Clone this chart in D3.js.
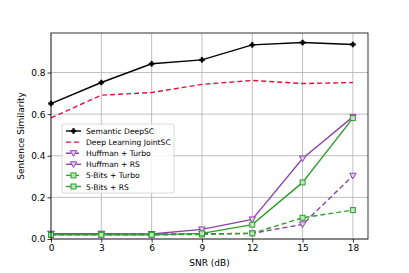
<!DOCTYPE html>
<html>
<head>
<meta charset="utf-8">
<script src="https://cdn.jsdelivr.net/npm/d3@7"></script>
<style>
  body { margin: 0; background: #fff; }
  text { font-family: "DejaVu Sans", sans-serif; }
</style>
</head>
<body>
<div id="chart"></div>
<script>
// data
const snr = [0, 3, 6, 9, 12, 15, 18];
const deepSC = [0.651, 0.752, 0.842, 0.861, 0.933, 0.944, 0.935];
const jointSC = [0.582, 0.691, 0.704, 0.743, 0.762, 0.747, 0.752];
const huffTurbo = [0.025, 0.025, 0.024, 0.025, 0.027, 0.070, 0.304];
const huffRS = [0.025, 0.025, 0.024, 0.046, 0.094, 0.387, 0.587];
const bitsTurbo = [0.020, 0.020, 0.020, 0.022, 0.027, 0.102, 0.139];
const bitsRS = [0.020, 0.020, 0.020, 0.027, 0.069, 0.272, 0.581];
const xTicks = [0, 3, 6, 9, 12, 15, 18];
const yTicks = [0.0, 0.2, 0.4, 0.6, 0.8];

const series = [
    {name: "Semantic DeepSC", values: deepSC, color: "#000000", dash: null, marker: "plus"},
    {name: "Deep Learning JointSC", values: jointSC, color: "#dc143c", dash: "5,3", marker: null},
    {name: "Huffman + Turbo", values: huffTurbo, color: "#8e44ad", dash: "5,3", marker: "tri"},
    {name: "Huffman + RS", values: huffRS, color: "#8e44ad", dash: null, marker: "tri"},
    {name: "5-Bits + Turbo", values: bitsTurbo, color: "#2ca02c", dash: "5,3", marker: "square"},
    {name: "5-Bits + RS", values: bitsRS, color: "#2ca02c", dash: null, marker: "square"}
];

const width = 409, height = 273;
const margin = {left: 51, right: 41, top: 33, bottom: 34};
const chartWidth = width - margin.left - margin.right;
const chartHeight = height - margin.top - margin.bottom;

const svg = d3.select("#chart").append("svg")
    .attr("width", width)
    .attr("height", height);

const xScale = d3.scaleLinear().domain([0, 18.9]).range([0, chartWidth]);
const yScale = d3.scaleLinear().domain([0, 0.99]).range([chartHeight, 0]);

const g = svg.append("g")
    .attr("transform", "translate(" + margin.left + "," + margin.top + ")");

// grid
g.append("g").selectAll("line").data(xTicks).enter().append("line")
    .attr("x1", d => xScale(d)).attr("x2", d => xScale(d))
    .attr("y1", 0).attr("y2", chartHeight)
    .attr("stroke", "#b0b0b0").attr("stroke-width", 0.8);
g.append("g").selectAll("line").data(yTicks).enter().append("line")
    .attr("y1", d => yScale(d)).attr("y2", d => yScale(d))
    .attr("x1", 0).attr("x2", chartWidth)
    .attr("stroke", "#b0b0b0").attr("stroke-width", 0.8);

// axes
const xAxis = d3.axisBottom(xScale).tickValues(xTicks).tickSize(3.5).tickPadding(2).tickFormat(d3.format("d"));
const yAxis = d3.axisLeft(yScale).tickValues(yTicks).tickSize(3.5).tickPadding(2).tickFormat(d3.format(".1f"));

const gx = g.append("g").attr("transform", "translate(0," + chartHeight + ")").call(xAxis);
const gy = g.append("g").call(yAxis);
[gx, gy].forEach(a => {
    a.select(".domain").remove();
    a.selectAll("text").attr("font-size", 9).attr("fill", "#000");
    a.selectAll("line").attr("stroke", "#000").attr("stroke-width", 0.8);
});

const line = d3.line()
    .x((d, i) => xScale(snr[i]))
    .y(d => yScale(d));

function drawMarker(sel, type, color) {
    if (type === "plus") {
        sel.append("path")
            .attr("d", d3.symbol().type(d3.symbolCross).size(14))
            .attr("fill", color).attr("stroke", color).attr("stroke-width", 0.6);
    } else if (type === "tri") {
        sel.append("path")
            .attr("d", "M-3.2,-2.5 L3.2,-2.5 L0,3.2 Z")
            .attr("fill", "#e2d0ea").attr("stroke", color).attr("stroke-width", 1);
    } else if (type === "square") {
        sel.append("rect")
            .attr("x", -2.5).attr("y", -2.5).attr("width", 5).attr("height", 5)
            .attr("fill", "#bfe3bf").attr("stroke", color).attr("stroke-width", 1);
    }
}

series.forEach(s => {
    g.append("path")
        .datum(s.values)
        .attr("d", line)
        .attr("fill", "none")
        .attr("stroke", s.color)
        .attr("stroke-width", 1.4)
        .attr("stroke-dasharray", s.dash);
    if (s.marker) {
        g.append("g").selectAll("g").data(s.values).enter().append("g")
            .attr("transform", (d, i) => "translate(" + xScale(snr[i]) + "," + yScale(d) + ")")
            .each(function() { drawMarker(d3.select(this), s.marker, s.color); });
    }
});

// frame
g.append("rect")
    .attr("width", chartWidth).attr("height", chartHeight)
    .attr("fill", "none").attr("stroke", "#000").attr("stroke-width", 0.8);

// axis titles
svg.append("text")
    .attr("x", margin.left + chartWidth / 2).attr("y", 266)
    .attr("text-anchor", "middle").attr("font-size", 9)
    .text("SNR (dB)");
svg.append("text")
    .attr("transform", "translate(24," + (margin.top + chartHeight / 2) + ") rotate(-90)")
    .attr("text-anchor", "middle").attr("font-size", 9)
    .text("Sentence Similarity");

// legend
const legend = svg.append("g").attr("transform", "translate(62,124)");
legend.append("rect")
    .attr("width", 112).attr("height", 69).attr("rx", 2)
    .attr("fill", "#fff").attr("fill-opacity", 0.8)
    .attr("stroke", "#d0d0d0").attr("stroke-width", 0.8);
series.forEach((s, i) => {
    const row = legend.append("g").attr("transform", "translate(0," + (7 + i * 11.1) + ")");
    row.append("line")
        .attr("x1", 4).attr("x2", 19)
        .attr("stroke", s.color).attr("stroke-width", 1.4)
        .attr("stroke-dasharray", s.dash);
    if (s.marker) {
        const m = row.append("g").attr("transform", "translate(11.5,0)");
        drawMarker(m, s.marker, s.color);
    }
    row.append("text")
        .attr("x", 24).attr("y", 3)
        .attr("font-size", 7.6)
        .text(s.name);
});
</script>
</body>
</html>
